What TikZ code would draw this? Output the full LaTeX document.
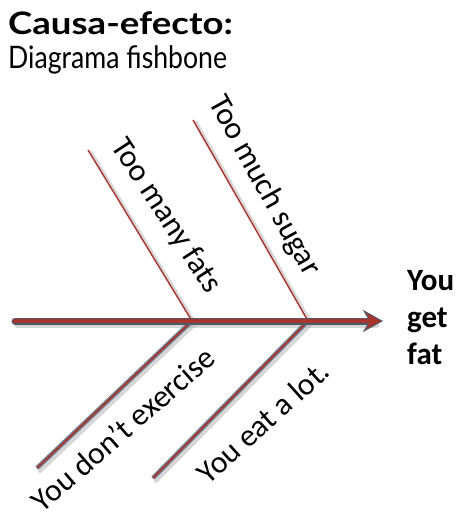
\documentclass[tikz,border=0pt]{standalone}
\usepackage{fontspec}
\setmainfont{Carlito}
\newfontfamily\titlefont[FakeStretch=1.18]{Lato}
\newfontfamily\subtitlefont[FakeStretch=0.86]{Lato}
\usetikzlibrary{arrows.meta,calc}

\definecolor{bonered}{HTML}{A8342C}
\definecolor{boneedge}{HTML}{4E5A68}
\definecolor{lowedge}{HTML}{6F8398}

\begin{document}
\begin{tikzpicture}[x=1pt,y=-1pt,
  shade line/.style={line width=5pt,black!35,opacity=.45,line cap=round},
  spine edge/.style={line width=7pt,boneedge,line cap=round},
  spine core/.style={line width=4pt,bonered,line cap=round},
  top bone/.style={line width=1.4pt,bonered},
  low edge/.style={line width=4.5pt,lowedge},
  low core/.style={line width=1.8pt,bonered},
  cause/.style={font=\fontsize{31.5}{33}\selectfont,inner sep=0pt}]
\useasboundingbox (0,0) rectangle (459,519);

% ejes
\coordinate (tail) at (15,321);
\coordinate (head) at (383,321);
\coordinate (j1) at (192,321);
\coordinate (j2) at (308,321);
\coordinate (t1) at (88,150);
\coordinate (t2) at (193,120);
\coordinate (b1) at (37,468);
\coordinate (b2) at (153,478);

% sombras
\draw[shade line] ($(tail)+(2,4)$) -- ($(head)+(-6,4)$);
\draw[shade line,line width=3pt] ($(t1)+(3,2)$) -- ($(j1)+(3,2)$);
\draw[shade line,line width=3pt] ($(t2)+(3,2)$) -- ($(j2)+(3,2)$);
\draw[shade line,line width=4pt] ($(j1)+(3,3)$) -- ($(b1)+(3,3)$);
\draw[shade line,line width=4pt] ($(j2)+(3,3)$) -- ($(b2)+(3,3)$);

% espinas
\draw[top bone] (t1) -- (j1);
\draw[top bone] (t2) -- (j2);
\draw[low edge] (j1) -- (b1);
\draw[low edge] (j2) -- (b2);
\draw[low core] (j1) -- (b1);
\draw[low core] (j2) -- (b2);

\draw[spine edge,-{Stealth[length=20pt,width=22pt]}] (tail) -- (head);
\draw[spine core,-{Stealth[length=15pt,width=16pt]}] (tail) -- ($(head)+(-2,0)$);

% textos
\node[anchor=base west,inner sep=0pt,font=\titlefont\bfseries\fontsize{31}{34}\selectfont] (t) at (8,35) {Causa-efecto:};
\node[anchor=base west,inner sep=0pt,font=\subtitlefont\fontsize{31}{34}\selectfont] (st) at (8,68) {Diagrama fishbone};

\node[cause,rotate=-57] (c1) at (166,216) {Too many fats};
\node[cause,rotate=-61] (c2) at (264,186) {Too much sugar};
\node[cause,rotate=41] (c3) at (123,429) {You don’t exercise};
\node[cause,rotate=42] (c4) at (263,422) {You eat a lot.};

\node[anchor=north west,align=left,inner sep=0pt,font=\bfseries\fontsize{31}{37}\selectfont] (fx) at (407,270) {You\\get\\fat};
\end{tikzpicture}
\end{document}
